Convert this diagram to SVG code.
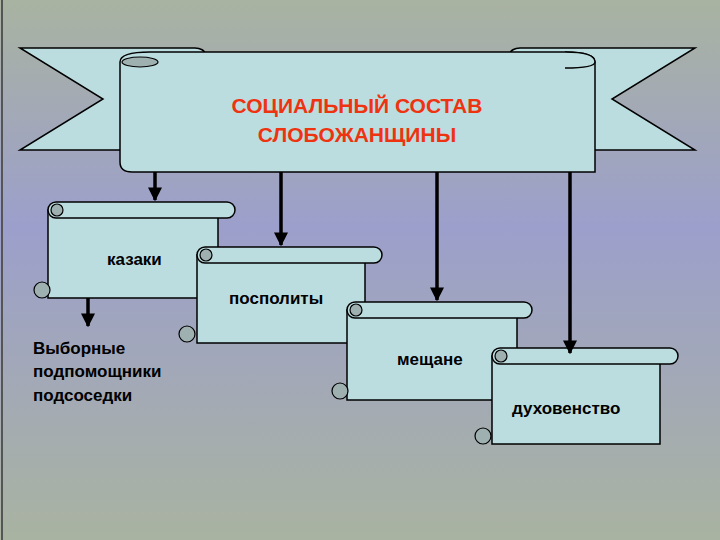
<svg xmlns="http://www.w3.org/2000/svg" width="720" height="540" viewBox="0 0 720 540">
<defs>
<linearGradient id="bg" x1="0" y1="0" x2="0" y2="1">
<stop offset="0" stop-color="#a9b3a1"/><stop offset="0.42" stop-color="#9c9fcb"/><stop offset="1" stop-color="#a9b3a1"/>
</linearGradient>
<marker id="ah" viewBox="0 0 10 10" refX="9" refY="5" markerWidth="4" markerHeight="4" orient="auto"><path d="M0,0L10,5L0,10z" fill="#000"/></marker>
<style>
.p{fill:#bcdde0;stroke:#000;stroke-width:1.5}
.s{fill:#9fb0b0;stroke:#000;stroke-width:1.2}
.c{stroke:#000;stroke-width:3.5;marker-end:url(#ah)}
.t{font-family:"Liberation Sans",Arial,sans-serif;font-size:17px;font-weight:bold;fill:#000}
.h{font-family:"Liberation Sans",Arial,sans-serif;font-size:21px;font-weight:bold;fill:#ee3311;text-anchor:middle}
</style>
</defs>
<rect width="720" height="540" fill="url(#bg)"/>
<line x1="2" y1="0" x2="2" y2="540" stroke="#555" stroke-width="2"/>
<g id="title">
<path class="p" d="M20,48H195A10,6 0 0 1 205,54V150H20L103,99Z"/>
<path class="p" d="M695,48H520A10,6 0 0 0 510,54V150H695L612,99Z"/>
<path class="p" d="M120,62Q120,52 150,52H565Q595,52 595,62V172H132Q120,172 120,162Z"/>
<ellipse cx="140" cy="62" rx="18" ry="5" class="s"/>
<path class="p" d="M565,52Q595,52 595,62Q595,68 565,68" fill="none"/>
<text class="h" x="357" y="113">СОЦИАЛЬНЫЙ СОСТАВ</text>
<text class="h" x="357" y="142">СЛОБОЖАНЩИНЫ</text>
</g>
<g id="kazaki">
<rect class="p" x="48" y="210" width="170" height="88"/>
<rect class="p" x="48" y="202" width="187" height="16" rx="8"/>
<circle class="s" cx="57" cy="210" r="6"/>
<circle class="s" cx="42" cy="290" r="8"/>
<text class="t" x="107" y="265">казаки</text>
</g>
<g id="pospolity">
<rect class="p" x="197" y="255" width="168" height="88"/>
<rect class="p" x="197" y="247" width="185" height="16" rx="8"/>
<circle class="s" cx="206" cy="255" r="6"/>
<circle class="s" cx="187" cy="334" r="8"/>
<text class="t" x="229" y="304">посполиты</text>
</g>
<g id="meshchane">
<rect class="p" x="347" y="310" width="170" height="90"/>
<rect class="p" x="347" y="302" width="185" height="16" rx="8"/>
<circle class="s" cx="356" cy="310" r="6"/>
<circle class="s" cx="340" cy="391" r="8"/>
<text class="t" x="397" y="365">мещане</text>
</g>
<g id="duhovenstvo">
<rect class="p" x="492" y="356" width="168" height="88"/>
<rect class="p" x="492" y="348" width="186" height="16" rx="8"/>
<circle class="s" cx="501" cy="356" r="6"/>
<circle class="s" cx="483" cy="436" r="8"/>
<text class="t" x="512" y="414">духовенство</text>
</g>
<g id="vybornye">
<text class="t" x="33" y="354">Выборные</text>
<text class="t" x="33" y="377">подпомощники</text>
<text class="t" x="33" y="401">подсоседки</text>
</g>
<g id="connectors">
<line class="c" x1="155" y1="172" x2="155" y2="200"/>
<line class="c" x1="281" y1="172" x2="281" y2="245"/>
<line class="c" x1="437" y1="172" x2="437" y2="300"/>
<line class="c" x1="570" y1="172" x2="570" y2="353"/>
<line class="c" x1="88" y1="298" x2="88" y2="326"/>
</g>
</svg>
